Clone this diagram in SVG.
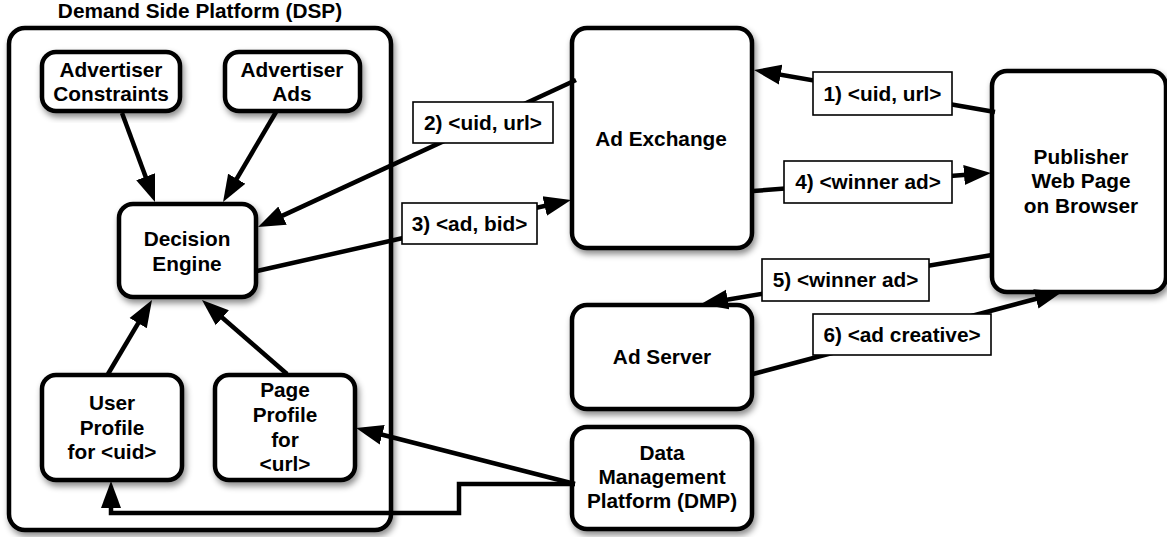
<svg xmlns="http://www.w3.org/2000/svg" width="1167" height="537" viewBox="0 0 1167 537">
<defs>
<filter id="sh" x="-10%" y="-10%" width="130%" height="130%">
<feDropShadow dx="2" dy="4" stdDeviation="3" flood-color="#000" flood-opacity="0.45"/>
</filter>
<marker id="ah" markerUnits="userSpaceOnUse" markerWidth="28" markerHeight="22" viewBox="0 0 28 22" refX="19" refY="11" orient="auto">
<path d="M0,1 L27,11 L0,21 z" fill="#000"/>
</marker>
<style>
.box{fill:#fff;stroke:#000;stroke-width:4.5;filter:url(#sh)}
.lbl{fill:#fff;stroke:#000;stroke-width:1.6}
.t{font-family:"Liberation Sans",Arial,Helvetica,sans-serif;font-weight:bold;font-size:20.8px;fill:#000;text-anchor:middle}
.c{fill:none;stroke:#000;stroke-width:4.5;marker-end:url(#ah)}
</style>
</defs>
<rect width="1167" height="537" fill="#fff"/>

<g id="dsp">
<rect class="box" x="9" y="28" width="382" height="502" rx="16"/>
<text class="t" x="200" y="18">Demand Side Platform (DSP)</text>
</g>
<g id="adv-constraints">
<rect class="box" x="42" y="52" width="138" height="59" rx="14"/>
<text class="t" x="111" y="77">Advertiser</text>
<text class="t" x="111" y="101">Constraints</text>
</g>
<g id="adv-ads">
<rect class="box" x="225" y="52" width="135" height="59" rx="14"/>
<text class="t" x="292" y="77">Advertiser</text>
<text class="t" x="292" y="101">Ads</text>
</g>
<g id="decision-engine">
<rect class="box" x="119" y="204" width="137" height="93" rx="14"/>
<text class="t" x="187" y="246">Decision</text>
<text class="t" x="187" y="271">Engine</text>
</g>
<g id="user-profile">
<rect class="box" x="42" y="375" width="140" height="105" rx="14"/>
<text class="t" x="112" y="410">User</text>
<text class="t" x="112" y="435">Profile</text>
<text class="t" x="112" y="459">for &lt;uid&gt;</text>
</g>
<g id="page-profile">
<rect class="box" x="215" y="375" width="140" height="105" rx="14"/>
<text class="t" x="285" y="397">Page</text>
<text class="t" x="285" y="422">Profile</text>
<text class="t" x="285" y="447">for</text>
<text class="t" x="285" y="471">&lt;url&gt;</text>
</g>
<g id="ad-exchange">
<rect class="box" x="572" y="28" width="180" height="220" rx="15"/>
<text class="t" x="661" y="146">Ad Exchange</text>
</g>
<g id="publisher">
<rect class="box" x="992" y="71" width="174" height="221" rx="15"/>
<text class="t" x="1081" y="164">Publisher</text>
<text class="t" x="1081" y="188">Web Page</text>
<text class="t" x="1081" y="213">on Browser</text>
</g>
<g id="ad-server">
<rect class="box" x="572" y="305" width="180" height="104" rx="15"/>
<text class="t" x="662" y="364">Ad Server</text>
</g>
<g id="dmp">
<rect class="box" x="572" y="427" width="180" height="102" rx="15"/>
<text class="t" x="662" y="460">Data</text>
<text class="t" x="662" y="484">Management</text>
<text class="t" x="662" y="508">Platform (DMP)</text>
</g>

<g id="connectors">
<path class="c" d="M122,113 L152.2,194.5"/>
<path class="c" d="M276,112 L227.1,195.1"/>
<path class="c" d="M576,80 L265.3,223.6"/>
<path class="c" d="M257,271 L563.2,201.8"/>
<path class="c" d="M995,112 L761.9,71.4"/>
<path class="c" d="M753,191 L983,173.6"/>
<path class="c" d="M992,255 L708.9,302.7"/>
<path class="c" d="M753,374 L1054.3,294"/>
<path class="c" d="M575,484 L363.8,430"/>
<path class="c" d="M575,484 H459 V513 H111 V489"/>
<path class="c" d="M108,374 L147.9,306.9"/>
<path class="c" d="M287,374 L208,305.3"/>
</g>

<g id="labels">
<rect class="lbl" x="813" y="72" width="139" height="43"/>
<text class="t" x="882.5" y="101">1) &lt;uid, url&gt;</text>
<rect class="lbl" x="413" y="102" width="140" height="41"/>
<text class="t" x="483" y="130">2) &lt;uid, url&gt;</text>
<rect class="lbl" x="402" y="203" width="135" height="41"/>
<text class="t" x="469.5" y="231">3) &lt;ad, bid&gt;</text>
<rect class="lbl" x="784" y="161" width="168" height="42"/>
<text class="t" x="868" y="189">4) &lt;winner ad&gt;</text>
<rect class="lbl" x="762" y="259" width="167" height="42"/>
<text class="t" x="845.5" y="287">5) &lt;winner ad&gt;</text>
<rect class="lbl" x="813" y="314" width="178" height="41"/>
<text class="t" x="902" y="342">6) &lt;ad creative&gt;</text>
</g>
</svg>
